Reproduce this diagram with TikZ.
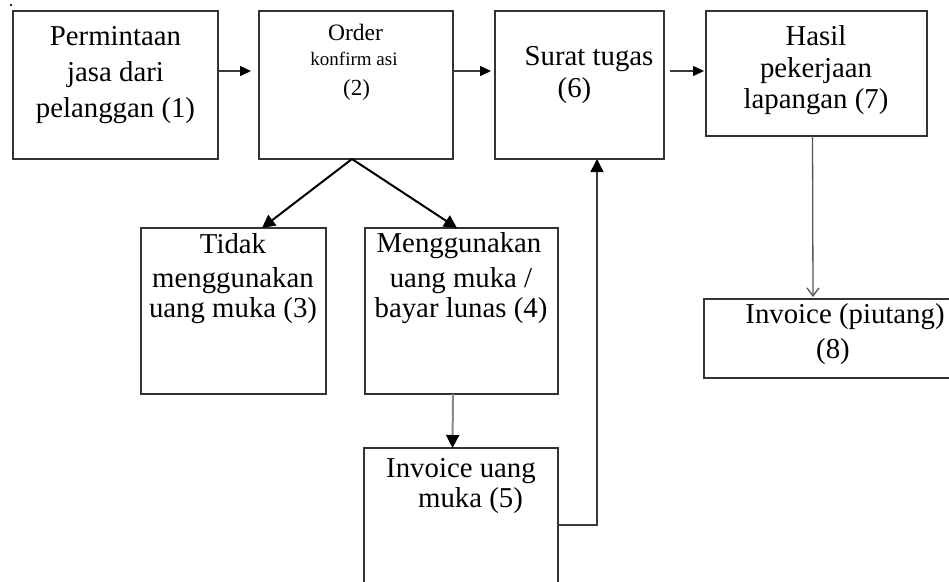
\documentclass[tikz,border=0pt]{standalone}
\usepackage{fontspec}
\setmainfont{Liberation Serif}
\usetikzlibrary{arrows.meta}
\newcommand\fsz[1]{\fontsize{#1}{#1}\selectfont}
\definecolor{boxc}{HTML}{333333}
\definecolor{linec}{HTML}{3A3A3A}
\definecolor{greyc}{HTML}{8A8A8A}
\definecolor{thinc}{HTML}{555555}
\begin{document}
\begin{tikzpicture}[x=1pt,y=-1pt,
  box/.style={draw=boxc, line width=1.3pt, inner sep=0pt, outer sep=0pt, rectangle},
  ln/.style={anchor=base, inner sep=0pt, font=\fsz{28.8}},
  tri/.style={-{Triangle[length=11pt,width=10pt,color=black]}},
  bigtri/.style={-{Triangle[length=13pt,width=13pt,color=black]}}]
\useasboundingbox (0,0) rectangle (949,581);
\clip (0,0) rectangle (949,581);
\fill[boxc] (10,4) rectangle (12,5.5);
% boxes
\node[box, minimum width=205pt, minimum height=148pt] (b1) at (115.5,85) {};
\node[box, minimum width=194pt, minimum height=148pt] (b2) at (356,85) {};
\node[box, minimum width=169pt, minimum height=148pt] (b6) at (579.5,85) {};
\node[box, minimum width=221pt, minimum height=125pt] (b7) at (816.5,73.5) {};
\node[box, minimum width=185pt, minimum height=166pt] (b3) at (233.5,311) {};
\node[box, minimum width=193pt, minimum height=166pt] (b4) at (461.5,311) {};
\node[box, minimum width=194pt, minimum height=172pt] (b5) at (461,534) {};
\node[box, minimum width=256pt, minimum height=79pt] (b8) at (832,338.5) {};
% texts
\node[ln] (t1a) at (115.5,45) {Permintaan};
\node[ln] (t1b) at (115.5,81) {jasa dari};
\node[ln] (t1c) at (115.5,117) {pelanggan (1)};
\node[ln, font=\fsz{23.5}] (t2a) at (355.5,40) {Order};
\node[ln, font=\fsz{19}] (t2b) at (354,65) {konfirm asi};
\node[ln, font=\fsz{23}] (t2c) at (356.5,95) {(2)};
\node[ln] (t6a) at (589,65) {Surat tugas};
\node[ln] (t6b) at (574.5,97) {(6)};
\node[ln] (t7a) at (816,45) {Hasil};
\node[ln] (t7b) at (816,77) {pekerjaan};
\node[ln] (t7c) at (816,108) {lapangan (7)};
\node[ln] (t3a) at (233,253) {Tidak};
\node[ln] (t3b) at (233,287) {menggunakan};
\node[ln] (t3c) at (233,317) {uang muka (3)};
\node[ln] (t4a) at (459,252) {Menggunakan};
\node[ln] (t4b) at (461,287) {uang muka /};
\node[ln] (t4c) at (461,317) {bayar lunas (4)};
\node[ln] (t5a) at (461,477) {Invoice uang};
\node[ln] (t5b) at (470.5,507) {muka (5)};
\node[ln] (t8a) at (845,323) {Invoice (piutang)};
\node[ln] (t8b) at (833,358) {(8)};
% connectors
\draw[tri, draw=linec, line width=1.3pt, shorten >=8pt] ([yshift=-60pt]b1.north east) -- ([yshift=-60pt]b2.north west);
\draw[tri, draw=linec, line width=1.3pt, shorten >=4pt] ([yshift=-60pt]b2.north east) -- ([yshift=-60pt]b6.north west);
\draw[tri, draw=linec, line width=1.3pt, shorten <=6pt, shorten >=2pt] ([yshift=-60pt]b6.north east) -- ([yshift=-60pt]b7.north west);
\draw[bigtri, draw=black, line width=2pt] ([xshift=-4pt]b2.south) -- ([xshift=28.5pt]b3.north);
\draw[bigtri, draw=black, line width=2pt] ([xshift=-4pt]b2.south) -- ([xshift=-4.5pt]b4.north);
\draw[bigtri, draw=greyc, line width=2pt] ([xshift=-8.5pt]b4.south) -- ([xshift=-8.5pt]b5.north);
\draw[bigtri, draw=linec, line width=1.6pt] ([yshift=-77pt]b5.north east) -| ([xshift=17.5pt]b6.south);
\draw[-{Straight Barb[length=8pt,width=12pt]}, draw=thinc, line width=1.3pt, shorten >=2pt] ([xshift=-4pt]b7.south) -- ([xshift=-19pt]b8.north);
\end{tikzpicture}
\end{document}
